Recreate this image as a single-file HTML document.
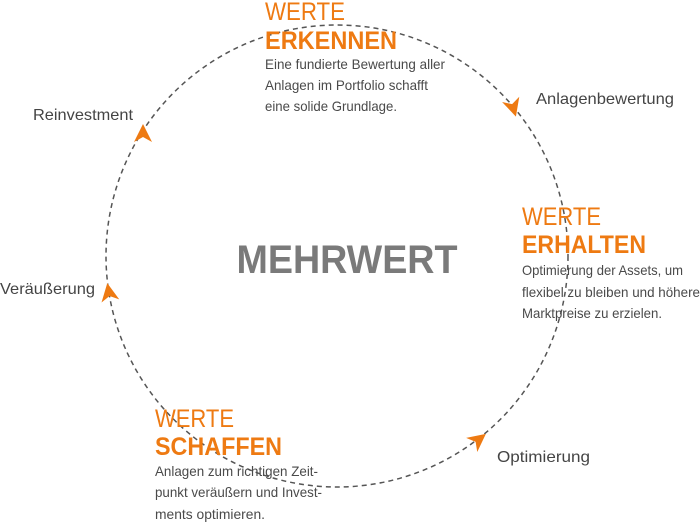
<!DOCTYPE html>
<html><head><meta charset="utf-8"><style>
html,body{margin:0;padding:0;background:#fff;width:700px;height:522px;overflow:hidden}
svg{display:block}
text{font-family:"Liberation Sans",sans-serif}
.w{fill:#ee7a12;font-size:25px;font-weight:300}
.h{fill:#ee7a12;font-size:25px;font-weight:bold}
.b{fill:#4a4a4a;font-size:14px}
.l{fill:#444;font-size:16px}
</style></head><body>
<svg width="700" height="522" viewBox="0 0 700 522" xmlns="http://www.w3.org/2000/svg">
<circle cx="337" cy="256" r="231" fill="none" stroke="#555" stroke-width="1.5" stroke-dasharray="5 4"/>
<g fill="#ee7a12">
<path d="M10,0 L-8,-9 L-3,0 L-8,9 Z" transform="translate(513,107) rotate(73)"/>
<path d="M10,0 L-8,-9 L-3,0 L-8,9 Z" transform="translate(478,440) rotate(-38)"/>
<path d="M10,0 L-8,-9 L-3,0 L-8,9 Z" transform="translate(109,293) rotate(-100)"/>
<path d="M10,0 L-8,-9 L-3,0 L-8,9 Z" transform="translate(143,134) rotate(-90)"/>
</g>
<text x="347" y="273" text-anchor="middle" font-size="40" font-weight="bold" fill="#7a7a7a" textLength="221" lengthAdjust="spacingAndGlyphs">MEHRWERT</text>

<text class="w" x="265" y="20" textLength="80" lengthAdjust="spacingAndGlyphs">WERTE</text>
<text class="h" x="265" y="49" textLength="132" lengthAdjust="spacingAndGlyphs">ERKENNEN</text>
<text class="b" x="265" y="69" textLength="180" lengthAdjust="spacingAndGlyphs">Eine fundierte Bewertung aller</text>
<text class="b" x="265" y="90" textLength="163" lengthAdjust="spacingAndGlyphs">Anlagen im Portfolio schafft</text>
<text class="b" x="265" y="111" textLength="132" lengthAdjust="spacingAndGlyphs">eine solide Grundlage.</text>

<text class="w" x="522" y="225" textLength="79" lengthAdjust="spacingAndGlyphs">WERTE</text>
<text class="h" x="522" y="253" textLength="124" lengthAdjust="spacingAndGlyphs">ERHALTEN</text>
<text class="b" x="522" y="275" textLength="161" lengthAdjust="spacingAndGlyphs">Optimierung der Assets, um</text>
<text class="b" x="522" y="297" textLength="178" lengthAdjust="spacingAndGlyphs">flexibel zu bleiben und höhere</text>
<text class="b" x="522" y="318" textLength="140" lengthAdjust="spacingAndGlyphs">Marktpreise zu erzielen.</text>

<text class="w" x="155" y="427" textLength="79" lengthAdjust="spacingAndGlyphs">WERTE</text>
<text class="h" x="155" y="455" textLength="127" lengthAdjust="spacingAndGlyphs">SCHAFFEN</text>
<text class="b" x="155" y="476" textLength="163" lengthAdjust="spacingAndGlyphs">Anlagen zum richtigen Zeit-</text>
<text class="b" x="155" y="497" textLength="167" lengthAdjust="spacingAndGlyphs">punkt veräußern und Invest-</text>
<text class="b" x="155" y="519" textLength="110" lengthAdjust="spacingAndGlyphs">ments optimieren.</text>

<text class="l" x="536" y="104" textLength="138" lengthAdjust="spacingAndGlyphs">Anlagenbewertung</text>
<text class="l" x="33" y="120" textLength="100" lengthAdjust="spacingAndGlyphs">Reinvestment</text>
<text class="l" x="0" y="294" textLength="95" lengthAdjust="spacingAndGlyphs">Veräußerung</text>
<text class="l" x="497" y="462" textLength="93" lengthAdjust="spacingAndGlyphs">Optimierung</text>
</svg>
</body></html>
